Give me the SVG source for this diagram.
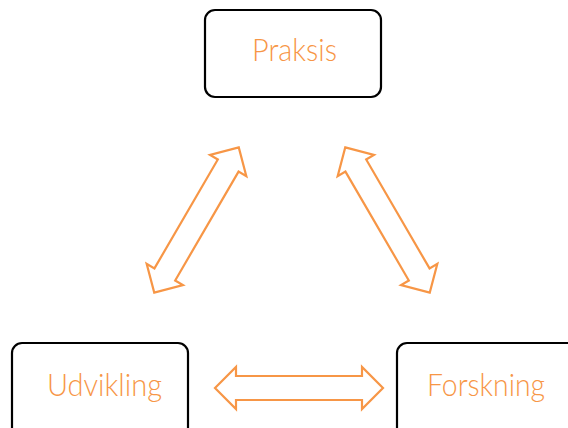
<svg xmlns="http://www.w3.org/2000/svg" width="568" height="428" viewBox="0 0 568 428">
  <style>
    .box { fill: #ffffff; stroke: #000000; stroke-width: 2.2; }
    .lbl { font-family: "Lato", "Liberation Sans", sans-serif; font-weight: 300; font-size: 32px; fill: #F79646; text-anchor: middle; }
    .arr { fill: #ffffff; stroke: #F79646; stroke-width: 2.2; stroke-linejoin: miter; }
  </style>
  <defs>
    <polygon id="dblarrow" points="-84,0 -63,-21 -63,-12 63,-12 63,-21 84,0 63,21 63,12 -63,12 -63,21"/>
  </defs>
  <rect width="568" height="428" fill="#ffffff"/>
  <g id="node-praksis">
    <rect class="box" x="205" y="10" width="176" height="87" rx="10"/>
    <text class="lbl" x="294.5" y="61" textLength="85" lengthAdjust="spacingAndGlyphs">Praksis</text>
  </g>
  <g id="node-udvikling">
    <rect class="box" x="12" y="343" width="176" height="95" rx="10"/>
    <text class="lbl" x="104.5" y="396" textLength="115" lengthAdjust="spacingAndGlyphs">Udvikling</text>
  </g>
  <g id="node-forskning">
    <rect class="box" x="397" y="343" width="185" height="95" rx="10"/>
    <text class="lbl" x="486" y="396" textLength="118" lengthAdjust="spacingAndGlyphs">Forskning</text>
  </g>
  <g id="connectors">
    <use href="#dblarrow" class="arr" transform="translate(299,388)"/>
    <use href="#dblarrow" class="arr" transform="translate(196.5,220) rotate(120.2)"/>
    <use href="#dblarrow" class="arr" transform="translate(387.5,220) rotate(59.8)"/>
  </g>
</svg>
